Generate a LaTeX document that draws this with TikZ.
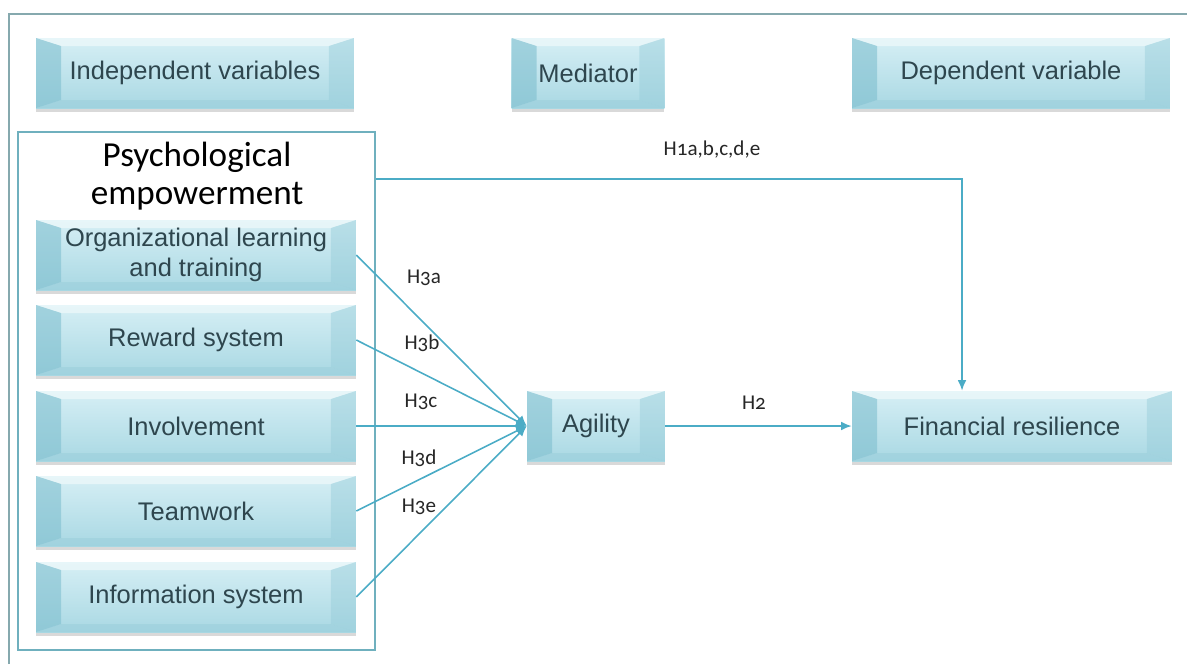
\documentclass[tikz,border=0pt]{standalone}
\usepackage{fontspec}
\setmainfont{Liberation Sans}
\newfontfamily\calfont[Numbers=OldStyle]{Carlito}
\usetikzlibrary{arrows.meta,shadows}
\definecolor{linkteal}{HTML}{4BACC6}
\definecolor{frameteal}{HTML}{6FB0BE}
\definecolor{outergray}{HTML}{86A9AE}
\definecolor{boxtop}{HTML}{D6EFF5}
\definecolor{boxbot}{HTML}{A9D8E3}
\definecolor{bevdark}{HTML}{7FBFCF}
\definecolor{bevmid}{HTML}{96CCD9}
\definecolor{bevlight}{HTML}{EFF9FB}
\definecolor{boxtext}{HTML}{2E464E}

\tikzset{
  varbox/.style={rectangle, draw=none, top color=boxtop, bottom color=boxbot,
    minimum height=1.4cm, text=boxtext, align=center,
    font=\fontsize{14.5}{17}\selectfont,
    drop shadow={shadow xshift=0pt, shadow yshift=-2pt, opacity=0.3, fill=gray},
    path picture={
      \path (path picture bounding box.south west) coordinate (bsw)
            (path picture bounding box.north west) coordinate (bnw)
            (path picture bounding box.north east) coordinate (bne)
            (path picture bounding box.south east) coordinate (bse);
      \fill[bevlight, opacity=0.7] (bnw) -- (bne) -- ([shift={(-0.5cm,-0.16cm)}]bne) -- ([shift={(0.5cm,-0.16cm)}]bnw) -- cycle;
      \fill[bevmid, opacity=0.45] (bsw) -- (bse) -- ([shift={(-0.5cm,0.16cm)}]bse) -- ([shift={(0.5cm,0.16cm)}]bsw) -- cycle;
      \fill[bevdark, opacity=0.6] (bsw) -- (bnw) -- ([shift={(0.5cm,-0.16cm)}]bnw) -- ([shift={(0.5cm,0.16cm)}]bsw) -- cycle;
      \fill[bevmid, opacity=0.45] (bse) -- (bne) -- ([shift={(-0.5cm,-0.16cm)}]bne) -- ([shift={(-0.5cm,0.16cm)}]bse) -- cycle;
    }},
  widebox/.style={varbox, minimum width=6.4cm},
  link/.style={draw=linkteal, line width=0.9pt, -{Latex[length=6pt,width=5pt]}},
  hyplabel/.style={font=\calfont\fontsize{12}{14}\selectfont, text=black!85},
}

\begin{document}
\begin{tikzpicture}[x=0.02cm, y=-0.02cm]
  \useasboundingbox (0,0) rectangle (1187,664);
  % Outer frame
  \draw[outergray, line width=1pt] (9,664) -- (9,14) -- (1187,14);

  % Column headers
  \node[varbox, minimum width=6.36cm] (indep) at (195,73) {Independent variables};
  \node[varbox, minimum width=3.06cm] (mediator) at (588,73) {Mediator};
  \node[varbox, minimum width=6.36cm] (depvar) at (1011,73) {Dependent variable};

  % Psychological empowerment block
  \node[draw=frameteal, line width=0.9pt, minimum width=7.14cm, minimum height=10.36cm] (psy) at (196.5,391) {};
  \node[font=\calfont\fontsize{20}{21.5}\selectfont, align=center] (psytitle) at (197,176) {Psychological\\empowerment};
  \node[widebox] (olt) at (196,255) {Organizational learning\\and training};
  \node[widebox] (rew) at (196,340) {Reward system};
  \node[widebox] (inv) at (196,426) {Involvement};
  \node[widebox] (team) at (196,511) {Teamwork};
  \node[widebox] (info) at (196,597) {Information system};

  % Mediator and outcome
  \node[varbox, minimum width=2.76cm] (agility) at (596,426) {Agility};
  \node[varbox, minimum width=6.4cm] (finres) at (1012,426) {Financial resilience};

  % Paths
  \foreach \src in {olt,rew,inv,team,info}
    \draw[link] (\src.east) -- (agility.west);
  \draw[link] (agility.east) -- (finres.west);
  \coordinate (h1src) at ([yshift=-0.96cm]psy.north east);
  \draw[link] (h1src) -| ([xshift=-1cm]finres.north);

  % Hypothesis labels
  \node[hyplabel] (h1) at (712,150) {H1a,b,c,d,e};
  \node[hyplabel] (h2) at (754,403) {H2};
  \node[hyplabel] (h3a) at (424,278) {H3a};
  \node[hyplabel] (h3b) at (422,343) {H3b};
  \node[hyplabel] (h3c) at (421,402) {H3c};
  \node[hyplabel] (h3d) at (419,458) {H3d};
  \node[hyplabel] (h3e) at (419,507) {H3e};
\end{tikzpicture}
\end{document}
